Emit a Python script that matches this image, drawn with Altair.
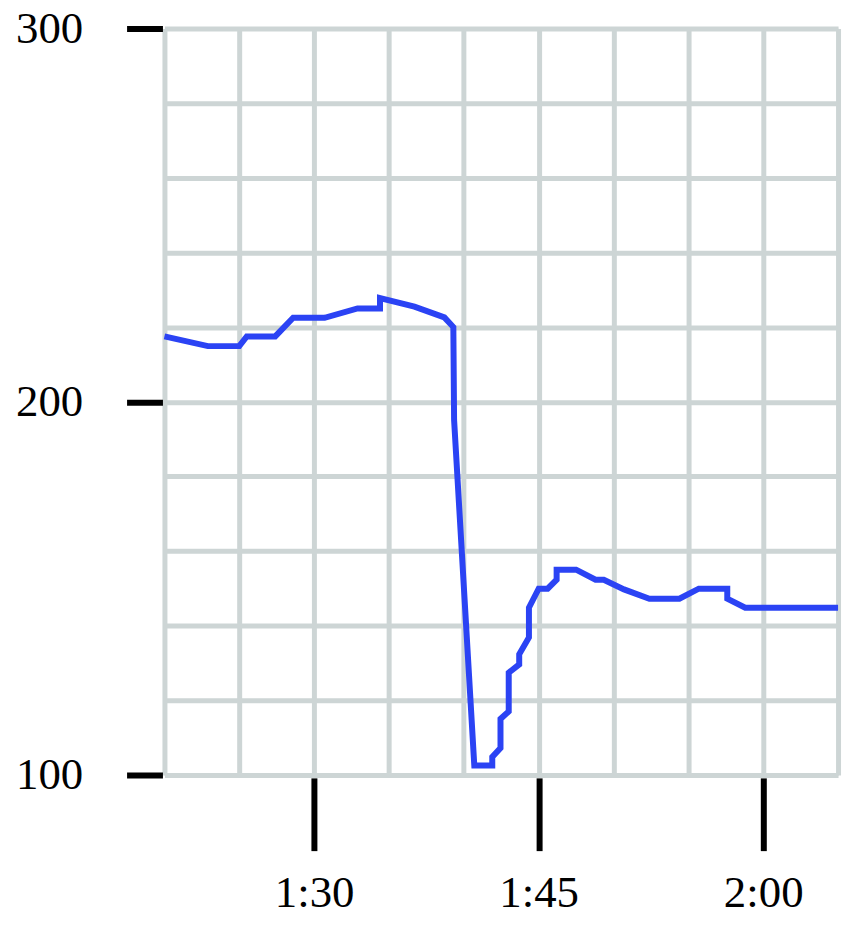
import altair as alt
import pandas as pd

# time in minutes (1:20 = 80), value
minutes = [80, 82.9, 85, 85.5, 87.4, 88.6, 90.7, 92.9, 94.4, 94.4, 96.7, 98.7, 99.3,
           99.35, 100.7, 101.9, 101.9, 102.45, 102.45, 103.0, 103.0, 103.7, 103.7,
           104.35, 104.35, 105.0, 105.6, 106.2, 106.2, 107.5, 108.8, 109.35, 110.7,
           112.4, 114.4, 115.7, 117.6, 117.6, 118.8, 125]
values = [217.5, 214.9, 214.9, 217.5, 217.5, 222.5, 222.5, 225.0, 225.0, 227.8, 225.5,
          222.6, 220.0, 195.1, 102.5, 102.5, 104.8, 107.2, 115.0, 117.0, 127.4, 129.6,
          132.3, 136.8, 144.8, 149.9, 149.9, 152.3, 155.0, 155.0, 152.3, 152.3, 149.7,
          147.2, 147.2, 149.9, 149.9, 147.2, 144.8, 144.8]

x_grid = list(range(80, 126, 5))
x_ticks = [90, 105, 120]
y_grid = list(range(100, 301, 20))
y_ticks = [100, 200, 300]

df = pd.DataFrame({"t": minutes, "v": values})

xt = "[" + ",".join(str(v) for v in x_ticks) + "]"
yt = "[" + ",".join(str(v) for v in y_ticks) + "]"

x_label_expr = (
    f"indexof({xt}, datum.value) >= 0 ? "
    "floor(datum.value/60) + ':' + (datum.value % 60 < 10 ? '0' : '') + (datum.value % 60) : ''"
)
y_label_expr = f"indexof({yt}, datum.value) >= 0 ? datum.label : ''"

grid_color = "#cdd5d5"
font = "Liberation Serif"

x_axis = alt.Axis(
    values=x_grid,
    labelExpr=x_label_expr,
    grid=True,
    gridColor=grid_color,
    gridWidth=5,
    gridOpacity=1,
    domain=False,
    tickSize=73,
    tickWidth=6,
    offset=3,
    tickColor={"condition": {"test": f"indexof({xt}, datum.value) >= 0", "value": "black"},
               "value": "transparent"},
    labelFont=font,
    labelFontSize=45,
    labelColor="black",
    labelPadding=20,
    labelFlush=False,
    labelOverlap=False,
    title=None,
)

y_axis = alt.Axis(
    values=y_grid,
    labelExpr=y_label_expr,
    grid=True,
    gridColor=grid_color,
    gridWidth=5,
    gridOpacity=1,
    domain=False,
    tickSize=36,
    tickWidth=6,
    offset=2,
    tickColor={"condition": {"test": f"indexof({yt}, datum.value) >= 0", "value": "black"},
               "value": "transparent"},
    labelFont=font,
    labelFontSize=45,
    labelColor="black",
    labelPadding=44,
    labelFlush=False,
    labelOverlap=False,
    title=None,
)

chart = (
    alt.Chart(df)
    .mark_line(color="#2b43f4", strokeWidth=6, strokeJoin="miter", strokeCap="butt")
    .encode(
        x=alt.X("t:Q", scale=alt.Scale(domain=[80, 125], nice=False, zero=False), axis=x_axis),
        y=alt.Y("v:Q", scale=alt.Scale(domain=[100, 300], nice=False, zero=False), axis=y_axis),
        order=alt.Order("t:Q"),
    )
    .properties(
        width=676,
        height=749,
        autosize=alt.AutoSizeParams(type="none"),
        padding={"left": 157, "top": 19, "right": 12, "bottom": 145},
    )
    .configure_view(stroke=None)
    .configure(background="white")
)

chart.save("out.html", embed_options={"renderer": "svg", "actions": False})
